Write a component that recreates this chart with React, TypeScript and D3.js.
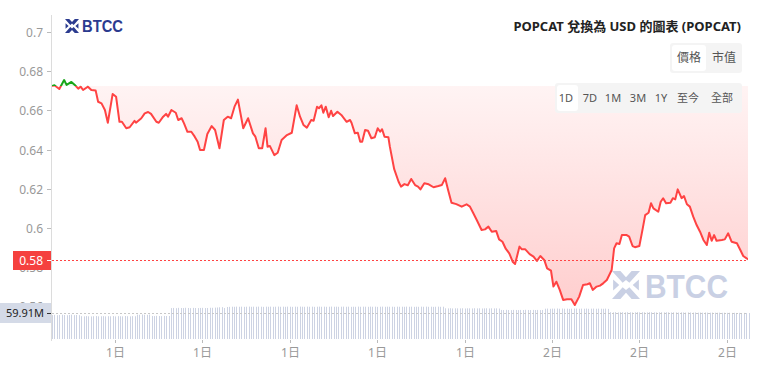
import React from 'react';
import * as d3 from 'd3';

const width = 762;
const height = 372;

// minutes after 06:50 on the 1st, and POPCAT price in USD
const minutes = [
  0, 5, 15, 25, 30, 40, 47, 54, 59, 64, 74, 81, 90, 95, 102, 109, 115, 125, 132, 139,
  144, 153, 160, 170, 173, 184, 191, 198, 204, 215, 220, 229, 235, 239, 246, 255, 260, 267, 272, 279,
  287, 294, 300, 305, 313, 320, 329, 336, 345, 354, 362, 369, 376, 383, 394, 404, 414, 419, 426, 433,
  440, 444, 449, 458, 465, 473, 484, 494, 504, 511, 518, 525, 534, 539, 546, 550, 555, 559, 564, 570,
  575, 579, 588, 596, 607, 614, 617, 624, 630, 635, 639, 645, 651, 658, 665, 671, 676, 680, 685, 693,
  696, 705, 714, 719, 726, 733, 740, 748, 754, 759, 767, 776, 786, 796, 803, 810, 816, 823, 833, 844,
  854, 861, 868, 875, 885, 892, 899, 906, 915, 921, 928, 935, 942, 949, 954, 963, 968, 975, 984, 992,
  999, 1006, 1014, 1020, 1028, 1033, 1039, 1046, 1053, 1061, 1070, 1077, 1086, 1094, 1103, 1108, 1114, 1122, 1129, 1136,
  1143, 1153, 1158, 1163, 1169, 1174, 1184, 1189, 1196, 1201, 1210, 1217, 1222, 1229, 1234, 1239, 1249, 1254, 1259, 1265,
  1274, 1279, 1284, 1289, 1297, 1302, 1308, 1314, 1321, 1328, 1335, 1342, 1349, 1354, 1359, 1364, 1369, 1380, 1386, 1393,
  1400, 1411, 1418, 1424, 1431, 1436,
];

const prices = [
  0.6724, 0.6728, 0.6709, 0.6755, 0.673, 0.6745, 0.673, 0.6711, 0.6721, 0.6704, 0.6721, 0.6704, 0.6701, 0.6644, 0.6636, 0.6602, 0.6537, 0.6684, 0.667, 0.6542,
  0.6542, 0.6509, 0.6514, 0.6547, 0.6537, 0.656, 0.6585, 0.6592, 0.6582, 0.6542, 0.6537, 0.6568, 0.6582, 0.6568, 0.6602, 0.6588, 0.6551, 0.656, 0.6534, 0.6491,
  0.6491, 0.6466, 0.644, 0.6398, 0.6398, 0.648, 0.652, 0.65, 0.6407, 0.6551, 0.6568, 0.656, 0.6619, 0.6655, 0.6509, 0.656, 0.6483, 0.6466, 0.6407, 0.6407,
  0.6509, 0.6415, 0.6418, 0.6372, 0.6384, 0.6449, 0.6474, 0.6486, 0.6626, 0.6568, 0.6526, 0.6512, 0.6551, 0.6547, 0.6619, 0.6611, 0.6626, 0.6588, 0.6619, 0.6565,
  0.6598, 0.6571, 0.6593, 0.6577, 0.6542, 0.6551, 0.6537, 0.6483, 0.6486, 0.644, 0.644, 0.65, 0.6496, 0.6458, 0.6463, 0.6509, 0.6491, 0.6504, 0.6466, 0.6463,
  0.6415, 0.63, 0.6236, 0.6211, 0.6224, 0.6218, 0.625, 0.6219, 0.6211, 0.6197, 0.6228, 0.6223, 0.6208, 0.6214, 0.6219, 0.6254, 0.6194, 0.6129, 0.6122, 0.6109,
  0.6121, 0.6109, 0.6075, 0.6041, 0.599, 0.5993, 0.6007, 0.5981, 0.5985, 0.5942, 0.593, 0.5893, 0.5871, 0.5828, 0.5816, 0.5905, 0.5891, 0.5891, 0.5867, 0.5854,
  0.5832, 0.5857, 0.5837, 0.5794, 0.5782, 0.5701, 0.5726, 0.5684, 0.5633, 0.5636, 0.5636, 0.5607, 0.565, 0.5709, 0.5713, 0.5718, 0.5684, 0.5701, 0.5706, 0.5719,
  0.5735, 0.5786, 0.5896, 0.5922, 0.5918, 0.5964, 0.5964, 0.5956, 0.5908, 0.5902, 0.5908, 0.5998, 0.6066, 0.6078, 0.6126, 0.61, 0.6083, 0.6134, 0.6152, 0.6126,
  0.6129, 0.6152, 0.6146, 0.6197, 0.6152, 0.6163, 0.6121, 0.6109, 0.6058, 0.6015, 0.5981, 0.5939, 0.5913, 0.5976, 0.5935, 0.5964, 0.5935, 0.5939, 0.5942, 0.5973,
  0.593, 0.5922, 0.5888, 0.5857, 0.5845, 0.5838,
];

// volume in millions, one per 5 minute slot
const volumes = [
  55.1, 55.6, 54.8, 55.3, 55.9, 55.2, 54.7, 55.4, 56.1, 55.0, 55.3, 54.9, 52.6, 52.1, 52.8, 52.3, 52.0, 52.5, 52.9, 52.2, 52.4, 52.7, 52.1, 52.5,
  52.3, 52.8, 52.0, 52.6, 52.4, 52.2, 52.9, 52.5, 52.1, 52.7, 52.4, 56.2, 55.8, 56.5, 56.0, 55.7, 56.3, 53.1, 52.8, 53.4, 53.0, 52.7, 53.2, 53.0,
  53.1, 71.2, 71.6, 71.0, 71.8, 71.4, 71.3, 71.9, 71.5, 71.1, 71.7, 71.4, 71.2, 71.6, 71.8, 71.3, 71.5, 72.0, 71.9, 72.3, 72.6, 73.1, 73.4, 71.4,
  73.8, 74.1, 74.4, 74.2, 74.6, 74.3, 74.5, 74.1, 74.4, 74.7, 74.2, 74.5, 74.3, 74.6, 74.4, 74.1, 74.5, 74.3, 74.6, 74.2, 74.4, 74.7, 74.3, 74.5,
  74.2, 74.6, 74.4, 74.1, 74.5, 74.3, 74.7, 74.4, 74.2, 74.6, 74.3, 74.5, 74.1, 74.4, 74.6, 74.3, 74.5, 74.2, 74.4, 74.7, 74.3, 74.5, 74.2, 74.4,
  74.6, 74.3, 74.5, 74.1, 74.4, 74.2, 74.6, 74.3, 74.5, 74.4, 74.2, 74.6, 74.3, 74.5, 74.1, 74.4, 74.6, 74.2, 74.5, 74.3, 74.4, 74.1, 74.5, 74.3,
  74.4, 74.2, 74.6, 74.3, 74.5, 74.1, 74.4, 74.2, 74.5, 74.3, 74.6, 74.2, 74.4, 74.1, 74.3, 74.5, 74.2, 74.4, 70.8, 70.5, 70.9, 70.4, 70.7, 70.6,
  70.5, 70.8, 70.3, 70.7, 70.6, 70.4, 70.9, 70.5, 70.7, 70.3, 70.6, 70.8, 70.4, 70.7, 70.5, 70.6, 70.2, 67.0, 66.7, 67.2, 66.8, 66.5, 67.1, 66.9,
  66.6, 67.0, 66.8, 67.3, 66.9, 66.7, 67.1, 66.8, 67.0, 66.6, 66.9, 69.8, 70.1, 69.6, 70.0, 69.9, 70.3, 69.7, 70.2, 69.8, 70.0, 69.5, 69.9, 70.2,
  70.1, 69.7, 70.0, 69.8, 70.2, 69.6, 69.9, 70.1, 69.7, 70.0, 69.8, 69.6, 70.0, 69.4, 61.8, 61.5, 61.9, 61.3, 61.6, 61.7, 61.4, 61.8, 61.5, 61.2,
  61.6, 61.9, 61.4, 61.7, 61.5, 61.3, 61.8, 61.6, 61.4, 61.2, 61.5, 61.7, 61.3, 61.6, 61.4, 61.1, 61.5, 61.3, 61.0, 61.4, 61.2, 60.9, 61.3, 61.1,
  60.9, 61.2, 60.8, 61.0, 60.7, 61.1, 60.8, 60.6, 60.9, 60.7, 60.5, 60.8, 60.4, 60.6, 60.3, 60.5, 60.2, 60.4, 60.1, 60.3, 60.0, 60.2, 59.9, 59.91,
];

const yTicks = [0.56, 0.58, 0.6, 0.62, 0.64, 0.66, 0.68, 0.7];
const ranges = ['1D', '7D', '1M', '3M', '1Y', '至今', '全部'];
const rangeX = [566, 590, 613, 638, 661, 688, 722];
const modes = ['價格', '市值'];
const modeX = [689, 724];

const title = 'POPCAT 兌換為 USD 的圖表 (POPCAT)';
const font = 'Noto Sans, "Noto Sans CJK TC", sans-serif';

const start = new Date(2024, 0, 1, 6, 50);
const end = d3.timeMinute.offset(start, 1440);
const times = minutes.map(m => d3.timeMinute.offset(start, m));

const left = 52;
const right = 748;
const bottom = 339;

const x = d3.scaleTime().domain([start, end]).range([52, 751]);
const y = d3.scaleLinear().domain([0.6, 0.7]).range([228, 32]);
const yVol = d3.scaleLinear().domain([0, 59.91]).range([bottom, 313]);

const baseY = y(prices[0]);
const lastY = y(prices[prices.length - 1]);

const line = d3.line<number>()
  .x((_, i) => x(times[i]))
  .y(d => y(d));

const area = d3.area<number>()
  .x((_, i) => x(times[i]))
  .y0(baseY)
  .y1(d => y(d));

const xTicks = x.ticks(d3.timeHour.every(3)!);
const dayFmt = d3.timeFormat('%-d日');

const red = '#ff4343';
const green = '#18a518';

const Logo = ({ fill }: { fill: string }) => (
  <g fill={fill}>
    <path d="M0,0 L0.3,0 L0.5,0.22 L0.7,0 L1,0 L0.62,0.42 L0.5,0.32 L0.38,0.42 Z" />
    <path d="M0,1 L0.3,1 L0.5,0.78 L0.7,1 L1,1 L0.62,0.58 L0.5,0.68 L0.38,0.58 Z" />
    <path d="M0.04,0.3 L0.26,0.5 L0.04,0.7 Z" />
    <path d="M0.96,0.3 L0.74,0.5 L0.96,0.7 Z" />
  </g>
);

const App = () => {
  return (
    <svg width={width} height={height} style={{ position: 'absolute', left: 0, top: 0 }} fontFamily={font}>
      <defs>
        <linearGradient id="redFill" gradientUnits="userSpaceOnUse" x1={0} y1={baseY} x2={0} y2={310}>
          <stop offset="0%" stopColor="#ff5a5a" stopOpacity={0.07} />
          <stop offset="100%" stopColor="#ff5a5a" stopOpacity={0.3} />
        </linearGradient>
        <clipPath id="below">
          <rect x={left} y={baseY} width={right - left} height={bottom - baseY} />
        </clipPath>
        <clipPath id="above">
          <rect x={left} y={0} width={right - left} height={baseY} />
        </clipPath>
      </defs>
      <rect width={width} height={height} fill="#fff" />

      <text x={401} y={182} textAnchor="middle" fontSize={24} fill="#000" fillOpacity={0.025}
        fontFamily="Liberation Sans, sans-serif">BTCC Exchange Support</text>

      {volumes.map((v, i) => (
        <rect key={i} x={Math.round(x(d3.timeMinute.offset(start, i * 5)))} y={yVol(v)}
          width={1} height={bottom - yVol(v)} fill="#cdd3e3" />
      ))}

      <path d={area(prices)!} fill="url(#redFill)" clipPath="url(#below)" />
      <path d={area(prices)!} fill="#18a518" fillOpacity={0.08} clipPath="url(#above)" />

      <g transform="translate(612,271) scale(28)">
        <Logo fill="#c9d0e4" />
      </g>
      <text x={645} y={298} fontSize={33} fontWeight="bold" fill="#c9d0e4" textLength={83}
        lengthAdjust="spacingAndGlyphs" fontFamily="Liberation Sans, sans-serif">BTCC</text>

      <path d={line(prices)!} fill="none" stroke={red} strokeWidth={2} strokeLinejoin="round" clipPath="url(#below)" />
      <path d={line(prices)!} fill="none" stroke={green} strokeWidth={2} strokeLinejoin="round" clipPath="url(#above)" />

      <line x1={left} x2={right} y1={313.5} y2={313.5} stroke="#c8c8c8" strokeDasharray="2,2" />
      <line x1={left} x2={right} y1={Math.round(lastY) + 0.5} y2={Math.round(lastY) + 0.5} stroke={red} strokeDasharray="2,2" />

      <line x1={51.5} x2={51.5} y1={15} y2={341} stroke="#dcdcdc" />
      {yTicks.map(t => (
        <g key={t} transform={`translate(0,${Math.round(y(t)) + 0.5})`}>
          <line x1={47} x2={51} stroke="#bbb" />
          <text x={43} dy="0.35em" textAnchor="end" fontSize={12} fill="#999">{d3.format('')(+t.toFixed(2))}</text>
        </g>
      ))}
      {xTicks.map(t => (
        <g key={+t} transform={`translate(${Math.round(x(t)) + 0.5},0)`}>
          <line y1={340} y2={343} stroke="#bbb" />
          <text y={357} textAnchor="middle" fontSize={12} fill="#999">{dayFmt(t)}</text>
        </g>
      ))}

      <rect x={13} y={251} width={38} height={19} fill="#f5413f" />
      <line x1={47} x2={51} y1={260.5} y2={260.5} stroke="#fff" />
      <text x={43} y={260.5} dy="0.35em" textAnchor="end" fontSize={12} fill="#fff">
        {d3.format('.2f')(prices[prices.length - 1])}
      </text>

      <rect x={0} y={303} width={51} height={20} fill="#d4dae7" />
      <line x1={47} x2={51} y1={313.5} y2={313.5} stroke="#333" />
      <text x={44} y={313.5} dy="0.35em" textAnchor="end" fontSize={11} fill="#222">
        {d3.format('.2f')(volumes[volumes.length - 1]) + 'M'}
      </text>

      <g transform="translate(65,19) scale(14)">
        <Logo fill="#2b3b8f" />
      </g>
      <text x={82} y={32} fontSize={17} fontWeight="bold" fill="#2b3b8f" textLength={41}
        lengthAdjust="spacingAndGlyphs" fontFamily="Liberation Sans, sans-serif">BTCC</text>

      <text x={741} y={31} textAnchor="end" fontSize={13} fontWeight="bold" fill="#222">{title}</text>

      <rect x={670} y={43} width={72} height={30} rx={3} fill="#f4f4f4" />
      <rect x={672} y={45} width={34} height={26} rx={3} fill="#fff" />
      {modes.map((m, i) => (
        <text key={m} x={modeX[i]} y={58} dy="0.35em" textAnchor="middle" fontSize={12} fill="#555">{m}</text>
      ))}

      <rect x={555} y={83} width={187} height={30} rx={3} fill="#f4f4f4" />
      <rect x={557} y={85} width={21} height={26} rx={3} fill="#fff" />
      {ranges.map((r, i) => (
        <text key={r} x={rangeX[i]} y={98} dy="0.35em" textAnchor="middle" fontSize={11} fill="#555">{r}</text>
      ))}
    </svg>
  );
};

export default App;
